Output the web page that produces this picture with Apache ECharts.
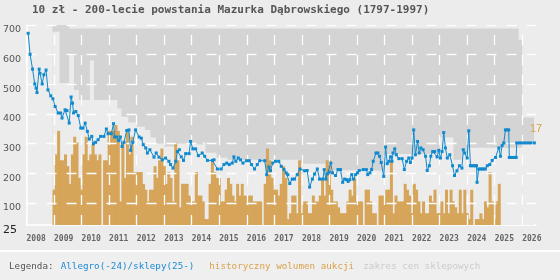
<!DOCTYPE html>
<html><head><meta charset="utf-8">
<script src="https://cdn.jsdelivr.net/npm/echarts@6/dist/echarts.min.js"></script>
<style>html,body{margin:0;padding:0;background:#ececec}#c{width:560px;height:280px}</style>
</head><body><div id="c"></div>
<script>
const titleText = '10 zł - 200-lecie powstania Mazurka Dąbrowskiego (1797-1997)';
const yTickLabels = [25, 100, 200, 300, 400, 500, 600, 700];
const xTickYears = [2008,2009,2010,2011,2012,2013,2014,2015,2016,2017,2018,2019,2020,2021,2022,2023,2024,2025,2026];
const legendParts = ['Legenda:', 'Allegro(-24)/sklepy(25-)', 'historyczny wolumen aukcji', 'zakres cen sklepowych'];

// price line (Allegro until 2024, shops from 2025): [decimal year, price]
const priceYears = [2008.06,2008.13,2008.22,2008.30,2008.35,2008.38,2008.46,2008.49,2008.57,2008.63,2008.71,2008.78,2008.88,2008.96,2009.04,2009.15,2009.24,2009.29,2009.40,2009.47,2009.55,2009.62,2009.67,2009.71,2009.79,2009.88,2009.97,2010.05,2010.13,2010.21,2010.28,2010.37,2010.43,2010.51,2010.60,2010.69,2010.81,2010.90,2010.96,2011.08,2011.16,2011.20,2011.28,2011.34,2011.41,2011.47,2011.54,2011.64,2011.72,2011.78,2011.86,2011.96,2012.09,2012.17,2012.24,2012.33,2012.39,2012.48,2012.63,2012.71,2012.81,
2012.93,2013.05,2013.17,2013.23,2013.32,2013.42,2013.48,2013.55,2013.62,2013.70,2013.78,2013.90,2013.96,2014.04,2014.14,2014.24,2014.38,2014.47,2014.57,2014.75,2014.81,2014.93,2015.07,2015.17,2015.27,2015.36,2015.47,2015.53,2015.60,2015.69,2015.77,2015.86,2015.99,2016.09,2016.17,2016.28,2016.38,2016.47,2016.65,2016.72,2016.80,2016.86,2016.94,2017.04,2017.16,2017.25,2017.35,2017.43,2017.49,2017.56,2017.65,2017.73,2017.83,2017.93,
2018.10,2018.19,2018.28,2018.38,2018.46,2018.56,2018.64,2018.76,2018.81,2018.87,2018.92,2018.99,2019.05,2019.11,2019.22,2019.31,2019.40,2019.48,2019.55,2019.62,2019.68,2019.74,2019.81,2019.87,2019.95,2020.02,2020.08,2020.23,2020.34,2020.39,2020.47,2020.53,2020.59,2020.69,2020.76,2020.82,2020.88,2020.97,2021.04,2021.10,2021.16,2021.22,2021.27,2021.31,2021.37,2021.43,2021.52,2021.64,2021.72,2021.80,2021.88,2021.94,2022.00,2022.06,2022.12,2022.20,2022.26,2022.32,2022.40,2022.49,2022.55,2022.63,2022.68,2022.75,2022.82,2022.91,2022.97,2023.03,2023.09,2023.15,2023.21,2023.28,2023.37,
2023.47,2023.54,2023.63,2023.72,2023.81,2023.86,2023.91,2024.00,2024.06,2024.12,2024.18,2024.24,2024.30,2024.34,2024.36,2024.42,2024.48,2024.54,2024.60,2024.66,2024.73,2024.82,2024.91,2025.03,2025.15,2025.21,2025.27,2025.33,2025.39,2025.45,2025.51,2025.53,2025.60,2025.67,2025.74,2025.78,2025.80,2025.90,2026.00,2026.10,2026.20,2026.30,2026.44];
const priceValues = [672,601,551,501,487,472,551,537,501,532,548,481,461,451,425,403,403,386,414,411,369,457,436,403,408,394,352,352,369,341,315,324,299,304,313,324,324,349,333,333,367,322,322,310,322,290,304,344,346,277,304,346,322,318,296,285,268,279,254,268,254,
245,251,240,229,217,240,273,279,255,243,266,266,307,282,282,259,268,257,243,243,245,214,214,229,234,229,234,255,240,251,245,234,242,242,229,214,229,242,242,195,221,209,234,240,240,223,212,201,195,165,180,180,195,214,
208,209,153,180,197,214,180,180,212,180,197,203,234,201,192,212,212,169,180,178,172,178,195,180,195,201,209,212,212,195,201,212,240,268,268,257,236,189,288,232,240,255,240,268,282,262,249,249,212,240,251,236,251,346,262,307,268,285,279,257,209,225,257,273,273,255,277,251,273,337,285,251,262,
225,192,208,225,217,279,268,251,343,225,225,225,225,225,169,214,214,214,214,214,225,229,243,253,285,257,293,302,346,346,346,253,253,253,253,253,302,302,302,302,302,302,302];

// monthly auction volume (count), starting January 2009
const volumeStartYear = 2009;
const volumeCounts = [6,12,16,11,11,12,10,7,12,15,14,8,6,12,15,11,12,14,12,11,12,0,11,11,
16,16,16,17,16,4,14,8,16,12,15,9,9,9,9,7,6,4,6,6,10,8,11,13,
10,7,9,8,4,14,11,3,7,7,7,5,4,4,9,5,5,4,1,1,7,11,9,8,
8,4,4,6,8,7,5,4,7,5,7,5,5,5,5,4,4,4,4,0,7,13,11,8,
6,6,5,7,10,8,1,2,5,5,2,11,2,4,4,2,2,5,4,4,5,8,5,11,
11,6,4,4,3,2,2,2,4,6,5,8,4,4,4,0,6,6,4,2,2,0,5,5,
5,6,6,11,2,5,4,4,4,7,6,5,2,7,6,4,2,4,2,2,5,4,6,2,
2,4,2,6,2,6,4,3,2,6,2,6,2,1,6,0,1,1,2,1,4,3,9,4,1,4,7];

// shop price range (step band)
const bandYears = [2008.94,2009.20,2009.55,2009.72,2009.90,2010.30,2010.45,2011.30,2011.45,2011.70,2012.00,2012.30,2012.50,2012.70,2013.00,2013.40,2013.80,2014.40,2014.50,2014.90,2015.30,2017.90,2019.10,2020.60,2021.00,2023.00,2023.50,2023.80,2024.00,2025.87,2026.00,2026.43];
const bandLow  = [677,504,600,481,447,580,447,418,390,371,357,346,320,300,290,300,296,305,269,252,245,232,210,206,265,320,245,270,286,286,303,303];
const bandHigh = [705,705,688,688,688,688,688,688,688,688,688,688,688,688,688,688,688,688,688,688,688,688,688,688,688,688,688,688,688,650,388,388];

const BG = '#ececec';
const BLUE = '#1089ce';
const ORANGE = '#d6a55a';
const BAND = '#d4d4d4';

const chart = echarts.init(document.getElementById('c'), null, {renderer: 'canvas'});

const gridLines = yTickLabels.filter(v => v > yTickLabels[0]).map(v => ({yAxis: v}))
  .concat(xTickYears.map(y => ({xAxis: y})));

chart.setOption({
  backgroundColor: BG,
  animation: false,
  title: {
    text: titleText, left: 32, top: 5, padding: 0,
    textStyle: {fontFamily: 'DejaVu Sans Mono', fontSize: 11, fontWeight: 'bold', color: '#555'}
  },
  grid: {left: 25.5, right: 24, top: 25, bottom: 55},
  xAxis: {
    type: 'value', min: 2008, max: 2026.5, interval: 1,
    axisLine: {show: true, lineStyle: {color: '#fff', width: 1.5}},
    axisTick: {show: false},
    splitLine: {show: false},
    axisLabel: {
      align: 'left', margin: 10,
      formatter: v => xTickYears.indexOf(v) >= 0 ? String(v) : '',
      fontFamily: 'DejaVu Sans Mono', fontWeight: 'bold', fontSize: 8, color: '#666'
    }
  },
  yAxis: [{
    type: 'value', min: 25, max: 700, interval: 25,
    axisLine: {show: true, lineStyle: {color: '#fff', width: 1.5}},
    axisTick: {show: false},
    splitLine: {show: false},
    axisLabel: {
      align: 'left', margin: 23.5, verticalAlign: 'top',
      formatter: v => yTickLabels.indexOf(v) < 0 ? '' : (v === yTickLabels[0] ? '{b|' + v + '}' : '{a|' + v + '}'),
      rich: {
        a: {fontFamily: 'DejaVu Sans', fontSize: 9.5, color: '#555', lineHeight: 10},
        b: {fontFamily: 'DejaVu Sans', fontSize: 11, color: '#222', lineHeight: 11}
      }
    }
  }, {
    type: 'value', min: 0, max: 34, show: false, splitLine: {show: false}
  }],
  series: [
    {
      name: 'bandHigh', type: 'line', step: 'end', symbol: 'none', silent: true, z: 1,
      data: bandYears.map((y, i) => [y, bandHigh[i]]),
      lineStyle: {width: 0}, areaStyle: {color: BAND, opacity: 1, origin: 'start'},
      markLine: {
        silent: true, z: 5, symbol: ['none', 'none'], label: {show: false},
        lineStyle: {color: '#ffffff', type: [10, 10], width: 1.3, opacity: 1},
        emphasis: {disabled: true},
        data: gridLines
      }
    },
    {
      name: 'bandLow', type: 'line', step: 'end', symbol: 'none', silent: true, z: 1,
      data: bandYears.map((y, i) => [y, bandLow[i]]),
      lineStyle: {width: 0}, areaStyle: {color: BG, opacity: 1, origin: 'start'}
    },
    {
      name: 'volume', type: 'bar', yAxisIndex: 1, z: 2, barWidth: 3,
      data: volumeCounts.map((c, i) => [volumeStartYear + i / 12, c]),
      itemStyle: {color: ORANGE}
    },
    {
      name: 'price', type: 'line', z: 10, symbol: 'rect', symbolSize: 3,
      data: priceYears.map((y, i) => [y, priceValues[i]]),
      lineStyle: {color: BLUE, width: 1}, itemStyle: {color: BLUE}
    }
  ]
});

const maxVol = Math.max.apply(null, volumeCounts);
const p = chart.convertToPixel({xAxisIndex: 0, yAxisIndex: 1}, [2026.5, maxVol]);
const legendFont = '9.25px "DejaVu Sans Mono"';
chart.setOption({
  graphic: [
    {type: 'rect', shape: {x: 0, y: 250, width: 560, height: 30}, style: {fill: '#efefef'}, z: 0},
    {type: 'rect', shape: {x: 0, y: 250, width: 560, height: 2}, style: {fill: '#ffffff'}, z: 0},
    {type: 'text', x: 9, y: 266.5, z: 100, style: {text: legendParts[0], font: legendFont, fill: '#555', verticalAlign: 'middle'}},
    {type: 'text', x: 60.7, y: 266.5, z: 100, style: {text: legendParts[1], font: legendFont, fill: '#1a8ad4', verticalAlign: 'middle'}},
    {type: 'text', x: 209.3, y: 266.5, z: 100, style: {text: legendParts[2], font: legendFont, fill: '#d9a24c', verticalAlign: 'middle'}},
    {type: 'text', x: 363.3, y: 266.5, z: 100, style: {text: legendParts[3], font: legendFont, fill: '#cccccc', verticalAlign: 'middle'}},
    {type: 'text', x: p[0] - 6, y: p[1] - 1.5, z: 100, style: {text: String(maxVol), font: '11px "Liberation Sans"', fill: '#d9a24c', verticalAlign: 'top'}}
  ]
});
</script></body></html>
